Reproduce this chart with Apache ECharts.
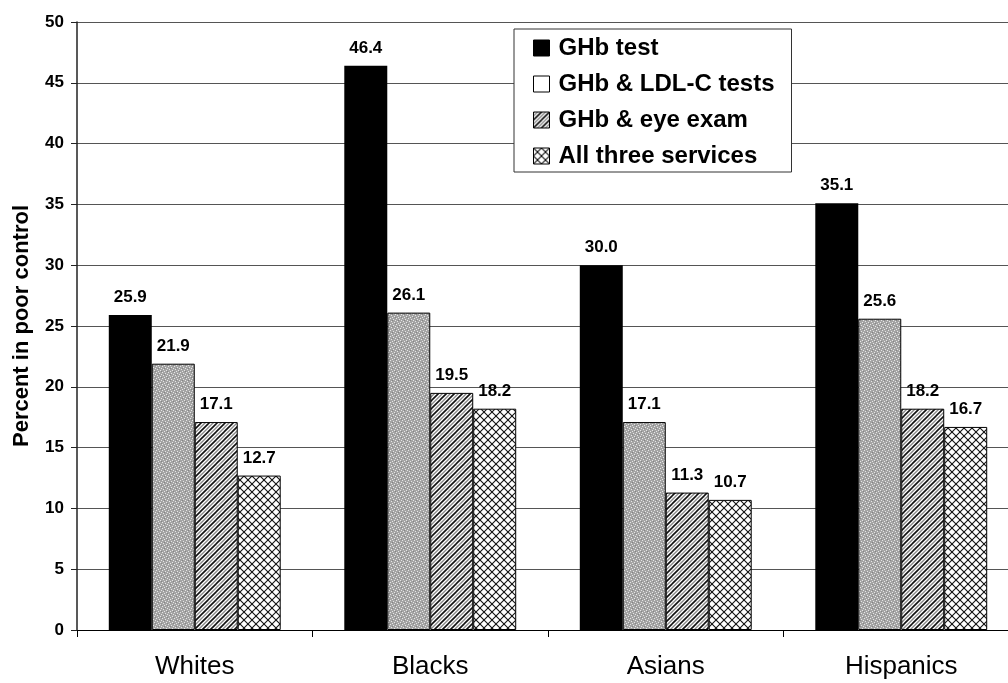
<!DOCTYPE html>
<html>
<head>
<meta charset="utf-8">
<script src="https://cdn.jsdelivr.net/npm/echarts@6/dist/echarts.min.js"></script>
<style>
html,body{margin:0;padding:0;background:#fff;overflow:hidden;width:1008px;height:683px;}
#chart{width:1020px;height:683px;}
</style>
</head>
<body>
<div id="chart"></div>
<script>
const categories = ['Whites', 'Blacks', 'Asians', 'Hispanics'];
const seriesNames = ['GHb test', 'GHb & LDL-C tests', 'GHb & eye exam', 'All three services'];
const ghbTest = [25.9, 46.4, 30.0, 35.1];
const ghbLdl = [21.9, 26.1, 17.1, 25.6];
const ghbEye = [17.1, 19.5, 11.3, 18.2];
const allThree = [12.7, 18.2, 10.7, 16.7];
const yTicks = [0, 5, 10, 15, 20, 25, 30, 35, 40, 45, 50];

function makeCanvas(w, h, draw) {
  const c = document.createElement('canvas');
  c.width = w; c.height = h;
  draw(c.getContext('2d'));
  return c;
}
// gray stipple
const stipple = makeCanvas(6, 6, ctx => {
  ctx.fillStyle = '#a4a4a4'; ctx.fillRect(0, 0, 6, 6);
  ctx.fillStyle = '#e6e6e6';
  [[0,0],[3,1],[1,3],[4,4],[2,5],[5,2]].forEach(p => ctx.fillRect(p[0], p[1], 1, 1));
  ctx.fillStyle = '#858585';
  [[2,2],[5,5]].forEach(p => ctx.fillRect(p[0], p[1], 1, 1));
});
// diagonal hatch
const hatch = makeCanvas(8, 8, ctx => {
  ctx.fillStyle = '#fff'; ctx.fillRect(0, 0, 8, 8);
  ctx.lineCap = 'square';
  const line = (off, col, w) => {
    ctx.strokeStyle = col; ctx.lineWidth = w;
    for (let k = -16; k <= 16; k += 8) {
      ctx.beginPath(); ctx.moveTo(k + off, 8); ctx.lineTo(k + off + 8, 0); ctx.stroke();
    }
  };
  line(0, '#111', 1.6);
  line(4, '#888', 1.4);
});
// cross hatch
const cross = makeCanvas(8, 8, ctx => {
  ctx.fillStyle = '#fff'; ctx.fillRect(0, 0, 8, 8);
  ctx.strokeStyle = '#111'; ctx.lineWidth = 1.1;
  for (let k = -8; k <= 8; k += 8) {
    ctx.beginPath(); ctx.moveTo(k, 8); ctx.lineTo(k + 8, 0); ctx.stroke();
    ctx.beginPath(); ctx.moveTo(k, 0); ctx.lineTo(k + 8, 8); ctx.stroke();
  }
});

const fills = ['#000', {image: stipple, repeat: 'repeat'}, {image: hatch, repeat: 'repeat'}, {image: cross, repeat: 'repeat'}];
const dataSets = [ghbTest, ghbLdl, ghbEye, allThree];

const chart = echarts.init(document.getElementById('chart'));
chart.setOption({
  animation: false,
  backgroundColor: '#fff',
  textStyle: {fontFamily: 'Liberation Sans, Arial, sans-serif'},
  grid: {left: 77, top: 22, right: 1, bottom: 53, show: false},
  legend: {
    orient: 'vertical',
    left: 514, top: 29,
    padding: [7, 17, 4, 19],
    itemGap: 12,
    itemWidth: 16, itemHeight: 16,
    borderColor: '#333', borderWidth: 1, backgroundColor: '#fff',
    textStyle: {fontSize: 24, fontWeight: 'bold', color: '#000', padding: [0, 0, 0, 4], fontFamily: 'Liberation Sans, Arial, sans-serif'},
    data: [
      {name: seriesNames[0], icon: 'rect', itemStyle: {color: '#000', borderColor: '#000', borderWidth: 1}},
      {name: seriesNames[1], icon: 'rect', itemStyle: {color: '#fff', borderColor: '#000', borderWidth: 1}},
      {name: seriesNames[2], icon: 'rect', itemStyle: {color: {image: hatch, repeat: 'repeat'}, borderColor: '#000', borderWidth: 1}},
      {name: seriesNames[3], icon: 'rect', itemStyle: {color: {image: cross, repeat: 'repeat'}, borderColor: '#000', borderWidth: 1}}
    ]
  },
  xAxis: {
    type: 'category',
    data: categories,
    axisLine: {lineStyle: {color: '#000', width: 1}},
    axisTick: {show: true, length: 7, lineStyle: {color: '#000'}},
    axisLabel: {fontSize: 26, color: '#000', margin: 24},
    splitLine: {show: false}
  },
  yAxis: {
    type: 'value',
    min: yTicks[0], max: yTicks[yTicks.length - 1], interval: 5,
    name: 'Percent in poor control',
    nameLocation: 'middle',
    nameGap: 44,
    nameTextStyle: {fontSize: 22, fontWeight: 'bold', color: '#000'},
    axisLine: {show: true, lineStyle: {color: '#222', width: 1.5}},
    axisTick: {show: true, length: 6, lineStyle: {color: '#222'}},
    axisLabel: {fontSize: 17, fontWeight: 'bold', color: '#000', margin: 13},
    splitLine: {show: true, lineStyle: {color: '#555', width: 1}}
  },
  series: dataSets.map((d, i) => ({
    name: seriesNames[i],
    type: 'bar',
    data: d,
    barGap: '0%',
    barCategoryGap: '27%',
    itemStyle: {color: fills[i], borderColor: '#000', borderWidth: i === 0 ? 0 : 1},
    label: {
      show: true, position: 'top', distance: 9,
      fontSize: 17, fontWeight: 'bold', color: '#000',
      formatter: p => p.value.toFixed(1)
    }
  }))
});
</script>
</body>
</html>
